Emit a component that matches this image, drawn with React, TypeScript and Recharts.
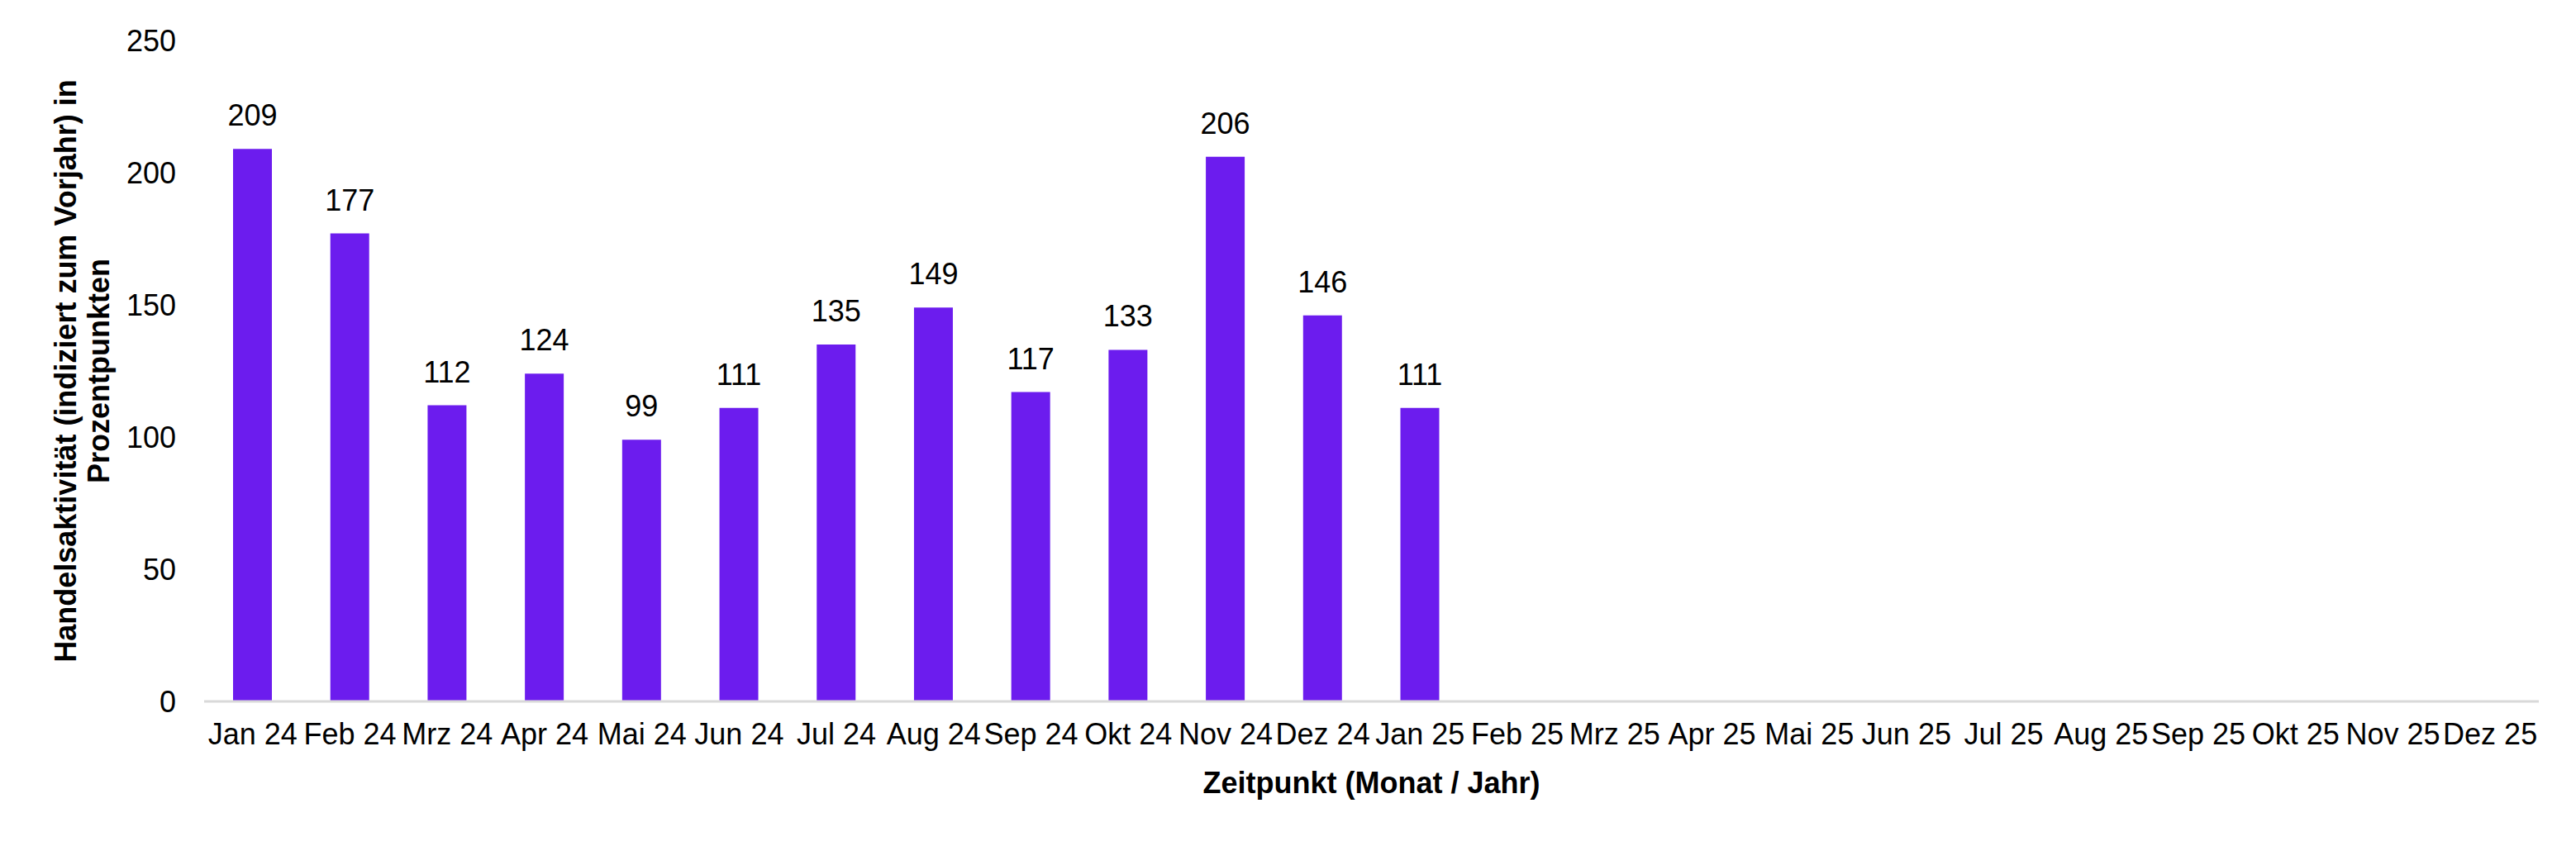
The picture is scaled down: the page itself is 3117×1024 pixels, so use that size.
import { BarChart, Bar, XAxis, YAxis, LabelList, Label } from 'recharts';

const FONT = '"Liberation Sans", Arial, sans-serif';
const BAR_COLOR = '#6c1cee';

const months = [
  'Jan 24', 'Feb 24', 'Mrz 24', 'Apr 24', 'Mai 24', 'Jun 24',
  'Jul 24', 'Aug 24', 'Sep 24', 'Okt 24', 'Nov 24', 'Dez 24',
  'Jan 25', 'Feb 25', 'Mrz 25', 'Apr 25', 'Mai 25', 'Jun 25',
  'Jul 25', 'Aug 25', 'Sep 25', 'Okt 25', 'Nov 25', 'Dez 25',
];

// only Jan 24 – Jan 25 are filled in, the rest of 2025 is still empty
const activity: (number | null)[] = [
  209, 177, 112, 124, 99, 111, 135, 149, 117, 133, 206, 146, 111,
  null, null, null, null, null, null, null, null, null, null, null,
];

const yTicks = [0, 50, 100, 150, 200, 250];

const yTitleLines = ['Handelsaktivität (indiziert zum Vorjahr) in', 'Prozentpunkten'];
const xTitle = 'Zeitpunkt (Monat / Jahr)';

const data = months.map((month, i) => ({ month, value: activity[i] }));

function YTitle(props: any) {
  const vb = props.viewBox ?? { y: 49, height: 800 };
  const cy = vb.y + vb.height / 2;
  const baselines = [92, 132];
  return (
    <g>
      {yTitleLines.map((line, i) => (
        <text
          key={line}
          x={baselines[i]}
          y={cy}
          transform={`rotate(-90, ${baselines[i]}, ${cy})`}
          textAnchor="middle"
          fontFamily={FONT}
          fontSize={36}
          fontWeight="bold"
          fill="#000"
        >
          {line}
        </text>
      ))}
    </g>
  );
}

export default function App() {
  return (
    <div style={{ position: 'absolute', left: 0, top: 0, width: 3117, height: 1024, background: '#fff', fontFamily: FONT }}>
      <BarChart
        width={3117}
        height={1024}
        data={data}
        margin={{ top: 49, right: 45, left: 0, bottom: 0 }}
      >
        <XAxis
          dataKey="month"
          height={175}
          interval={0}
          tickLine={false}
          tickSize={0}
          tickMargin={26}
          axisLine={{ stroke: '#d9d9d9', strokeWidth: 3 }}
          tick={{ fontSize: 36, fill: '#000', fontFamily: FONT }}
        >
          <Label
            value={xTitle}
            position="insideBottom"
            offset={64}
            style={{ fontSize: 36, fontWeight: 'bold', fill: '#000', fontFamily: FONT }}
          />
        </XAxis>
        <YAxis
          width={247}
          domain={[0, 250]}
          ticks={yTicks}
          interval={0}
          axisLine={false}
          tickLine={false}
          tickSize={0}
          tickMargin={34}
          tick={{ fontSize: 36, fill: '#000', fontFamily: FONT }}
        >
          <Label content={<YTitle />} />
        </YAxis>
        <Bar dataKey="value" fill={BAR_COLOR} barSize={47} isAnimationActive={false}>
          <LabelList
            dataKey="value"
            position="top"
            offset={28}
            formatter={(v: any) => (v == null ? '' : v)}
            style={{ fontSize: 36, fill: '#000', fontFamily: FONT }}
          />
        </Bar>
      </BarChart>
    </div>
  );
}
